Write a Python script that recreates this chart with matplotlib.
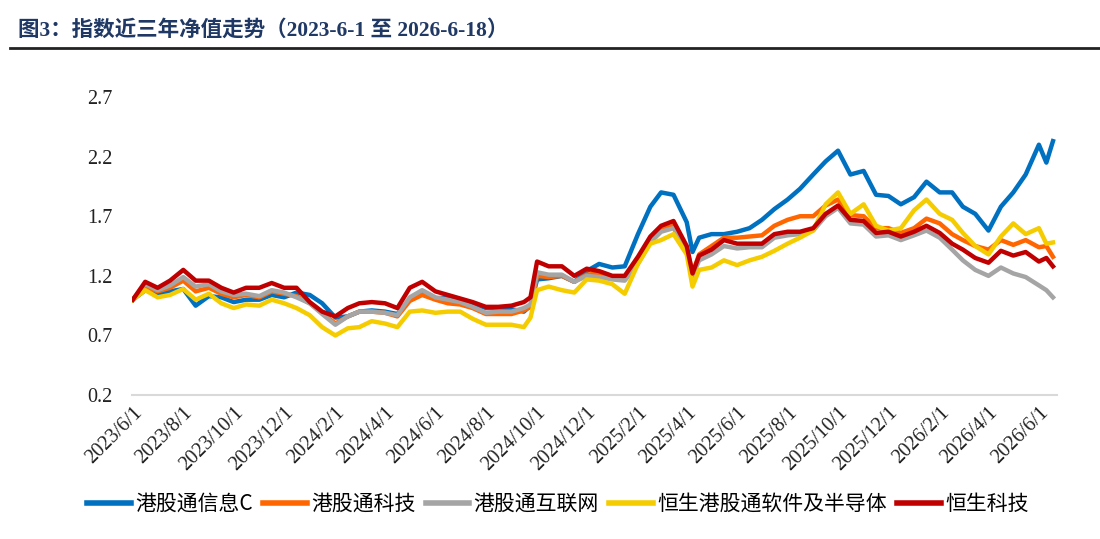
import matplotlib
matplotlib.use("Agg")
import matplotlib.pyplot as plt
import pandas as pd
from matplotlib.lines import Line2D

# semi-monthly readings from the reference chart
dates = ["2023-06-01", "2023-06-16", "2023-07-01", "2023-07-16", "2023-08-01", "2023-08-16",
         "2023-09-01", "2023-09-16", "2023-10-01", "2023-10-16", "2023-11-01", "2023-11-16",
         "2023-12-01", "2023-12-16", "2024-01-01", "2024-01-16", "2024-02-01", "2024-02-16",
         "2024-03-01", "2024-03-16", "2024-04-01", "2024-04-16", "2024-05-01", "2024-05-16",
         "2024-06-01", "2024-06-16", "2024-07-01", "2024-07-16", "2024-08-01", "2024-08-16",
         "2024-09-01", "2024-09-16", "2024-09-24", "2024-10-02", "2024-10-16", "2024-11-01",
         "2024-11-16", "2024-12-01", "2024-12-16", "2025-01-01", "2025-01-16", "2025-02-01",
         "2025-02-16", "2025-03-01", "2025-03-16", "2025-04-01", "2025-04-08", "2025-04-16",
         "2025-05-01", "2025-05-16", "2025-06-01", "2025-06-16", "2025-07-01", "2025-07-16",
         "2025-08-01", "2025-08-16", "2025-09-01", "2025-09-16", "2025-10-01", "2025-10-16",
         "2025-11-01", "2025-11-16", "2025-12-01", "2025-12-16", "2026-01-01", "2026-01-16",
         "2026-02-01", "2026-02-16", "2026-03-01", "2026-03-16", "2026-04-01", "2026-04-16",
         "2026-05-01", "2026-05-16", "2026-06-01", "2026-06-10", "2026-06-18"]

info_c = [1.00, 1.08, 1.05, 1.07, 1.09, 0.95, 1.03, 1.02, 0.98, 1.00, 1.00, 1.04,
          1.02, 1.06, 1.04, 0.97, 0.85, 0.86, 0.90, 0.91, 0.90, 0.88, 1.00, 1.07,
          1.01, 1.02, 1.00, 0.97, 0.93, 0.93, 0.92, 0.90, 0.95, 1.17, 1.18, 1.20,
          1.15, 1.24, 1.30, 1.27, 1.28, 1.55, 1.78, 1.90, 1.88, 1.65, 1.40, 1.52,
          1.55, 1.55, 1.57, 1.60, 1.67, 1.76, 1.84, 1.93, 2.05, 2.16, 2.25, 2.05,
          2.08, 1.88, 1.87, 1.80, 1.86, 1.99, 1.90, 1.90, 1.78, 1.72, 1.58, 1.78,
          1.90, 2.05, 2.30, 2.15, 2.33]

tech = [1.00, 1.11, 1.07, 1.10, 1.16, 1.07, 1.10, 1.05, 1.02, 1.04, 1.02, 1.07,
        1.05, 1.03, 0.97, 0.89, 0.80, 0.86, 0.90, 0.90, 0.89, 0.86, 0.99, 1.04,
        1.00, 0.97, 0.96, 0.93, 0.88, 0.88, 0.88, 0.91, 0.94, 1.20, 1.19, 1.20,
        1.15, 1.21, 1.22, 1.19, 1.18, 1.33, 1.50, 1.59, 1.62, 1.44, 1.22, 1.38,
        1.45, 1.52, 1.52, 1.53, 1.54, 1.62, 1.67, 1.70, 1.70, 1.79, 1.84, 1.71,
        1.70, 1.60, 1.60, 1.56, 1.60, 1.68, 1.64, 1.55, 1.50, 1.45, 1.42, 1.50,
        1.46, 1.50, 1.44, 1.45, 1.36]

internet = [1.00, 1.13, 1.08, 1.12, 1.19, 1.11, 1.13, 1.07, 1.04, 1.05, 1.03, 1.08,
            1.06, 1.02, 0.97, 0.88, 0.79, 0.86, 0.90, 0.90, 0.89, 0.87, 1.02, 1.08,
            1.02, 1.00, 0.98, 0.94, 0.89, 0.90, 0.90, 0.93, 0.96, 1.23, 1.21, 1.21,
            1.15, 1.20, 1.19, 1.17, 1.16, 1.30, 1.48, 1.57, 1.60, 1.42, 1.20, 1.33,
            1.38, 1.45, 1.43, 1.44, 1.44, 1.52, 1.54, 1.55, 1.58, 1.70, 1.77, 1.64,
            1.63, 1.53, 1.54, 1.50, 1.54, 1.58, 1.52, 1.42, 1.33, 1.25, 1.20, 1.27,
            1.22, 1.19, 1.12, 1.08, 1.02]

software_semi = [1.00, 1.08, 1.02, 1.04, 1.09, 1.00, 1.05, 0.97, 0.93, 0.96, 0.95, 1.00,
                 0.97, 0.93, 0.87, 0.77, 0.70, 0.76, 0.77, 0.82, 0.80, 0.77, 0.90, 0.91,
                 0.89, 0.90, 0.90, 0.84, 0.79, 0.79, 0.79, 0.77, 0.85, 1.08, 1.11, 1.08,
                 1.06, 1.17, 1.16, 1.13, 1.05, 1.30, 1.47, 1.50, 1.55, 1.38, 1.11, 1.25,
                 1.27, 1.33, 1.29, 1.33, 1.36, 1.41, 1.47, 1.52, 1.58, 1.80, 1.90, 1.72,
                 1.80, 1.62, 1.58, 1.60, 1.75, 1.84, 1.72, 1.67, 1.56, 1.45, 1.38, 1.53,
                 1.64, 1.55, 1.60, 1.47, 1.48]

hstech = [1.00, 1.15, 1.10, 1.16, 1.25, 1.16, 1.16, 1.10, 1.06, 1.10, 1.10, 1.14,
          1.10, 1.10, 0.98, 0.90, 0.86, 0.93, 0.97, 0.98, 0.97, 0.93, 1.10, 1.15,
          1.07, 1.04, 1.01, 0.98, 0.94, 0.94, 0.95, 0.98, 1.02, 1.32, 1.28, 1.28,
          1.20, 1.26, 1.24, 1.20, 1.20, 1.36, 1.53, 1.62, 1.66, 1.45, 1.22, 1.37,
          1.42, 1.50, 1.47, 1.47, 1.47, 1.55, 1.57, 1.57, 1.60, 1.72, 1.79, 1.67,
          1.66, 1.56, 1.57, 1.53, 1.57, 1.62, 1.56, 1.47, 1.42, 1.35, 1.31, 1.41,
          1.37, 1.40, 1.32, 1.35, 1.28]

names = ["港股通信息C", "港股通科技", "港股通互联网", "恒生港股通软件及半导体", "恒生科技"]
colors = ["#0070C0", "#FF6600", "#A5A5A5", "#F5CC00", "#C00000"]

tick_dates = pd.date_range("2023-06-01", "2026-06-01", freq="2MS")
tick_labels = [f"{d.year}/{d.month}/{d.day}" for d in tick_dates]
y_ticks = [0.2, 0.7, 1.2, 1.7, 2.2, 2.7]

serif = ["Liberation Serif", "Noto Sans CJK SC"]

x = pd.to_datetime(dates)
series = [info_c, tech, internet, software_semi, hstech]

fig = plt.figure(figsize=(11, 5.39), dpi=100)
ax = fig.add_axes([0.12, 0.267, 0.841, 0.553])

for vals, name, c in zip(series, names, colors):
    ax.plot(x, vals, color=c, lw=3.2, label=name, solid_joinstyle="round")

ax.set_ylim(0.2, 2.7)
ax.set_xlim(pd.Timestamp("2023-05-31"), pd.Timestamp("2026-06-23"))
ax.set_yticks(y_ticks)
ax.set_yticklabels([f"{v:.1f}" for v in y_ticks], family=serif, fontsize=14.5, color="#222222")
ax.set_xticks(tick_dates)
ax.set_xticklabels(tick_labels, family=serif, fontsize=14.5, rotation=45,
                   ha="right", rotation_mode="anchor", color="#222222")
ax.tick_params(axis="both", length=0)
ax.tick_params(axis="y", pad=14)
ax.tick_params(axis="x", pad=6)
for s in ["top", "right", "left"]:
    ax.spines[s].set_visible(False)
ax.spines["bottom"].set_color("#D9D9D9")
ax.spines["bottom"].set_linewidth(1.5)

fig.text(18 / 1100, 1 - 30 / 539, "图3：指数近三年净值走势（2023-6-1 至 2026-6-18）",
         family=serif, fontsize=15.5, fontweight="bold", color="#1F3864", va="center")
fig.add_artist(Line2D([10 / 1100, 1.0], [1 - 48 / 539] * 2, color="#222222", lw=2))

handles = [Line2D([0], [0], color=c, lw=4) for c in colors]
fig.legend(handles, names, loc="center", bbox_to_anchor=(0.507, 1 - 504 / 539), ncol=5,
           frameon=False, prop={"family": ["Noto Sans CJK SC"], "size": 15},
           handlelength=2.1, handletextpad=0.2, columnspacing=0.5)

fig.savefig("out.png", dpi=100)
